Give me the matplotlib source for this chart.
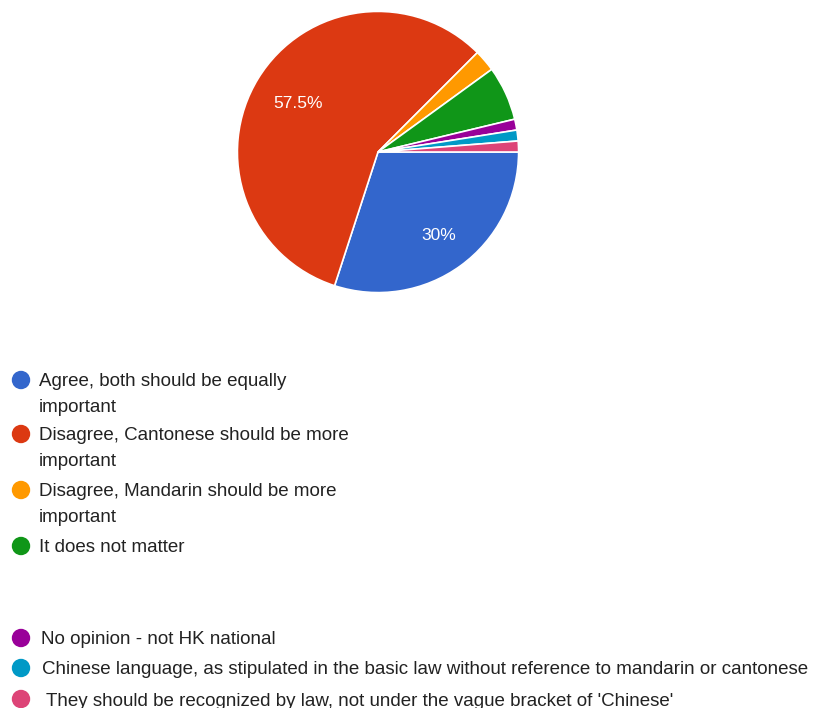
import matplotlib
matplotlib.use('Agg')
import matplotlib.pyplot as plt
from matplotlib.patches import Circle

labels = [
    'Agree, both should be equally\nimportant',
    'Disagree, Cantonese should be more\nimportant',
    'Disagree, Mandarin should be more\nimportant',
    'It does not matter',
    'No opinion - not HK national',
    'Chinese language, as stipulated in the basic law without reference to mandarin or cantonese',
    "They should be recognized by law, not under the vague bracket of 'Chinese'",
]
counts = [24, 46, 2, 5, 1, 1, 1]
colors = ['#3366cc', '#dc3912', '#ff9900', '#109618', '#990099', '#0099c6', '#dd4477']

W, H = 816, 708
fig = plt.figure(figsize=(W / 100, H / 100), dpi=100)
fig.patch.set_facecolor('white')

# pie, centre (378,152) px, radius 142 px
cx, cy, r = 378, 152, 142
ax = fig.add_axes([(cx - r) / W, 1 - (cy + r) / H, 2 * r / W, 2 * r / H])

def fmt(p):
    if p < 10:
        return ''
    return ('%.1f%%' % p).replace('.0%', '%')

wedges, texts, autotexts = ax.pie(
    counts, colors=colors, startangle=0, counterclock=False,
    autopct=fmt, pctdistance=0.7, radius=1,
    wedgeprops=dict(edgecolor='white', linewidth=1.2),
    textprops=dict(color='white', fontsize=12.5, family='Liberation Sans'))
# nudge label distances like google's layout
for t, k in [(autotexts[0], 1.05), (autotexts[1], 0.95)]:
    px, py = t.get_position()
    t.set_position((px * k, py * k))
ax.set_xlim(-1.01, 1.01)
ax.set_ylim(-1.01, 1.01)
ax.set_aspect('equal')
ax.axis('off')

# legend drawn by hand (two pages like the original)
lax = fig.add_axes([0, 0, 1, 1])
lax.set_xlim(0, W)
lax.set_ylim(H, 0)
lax.axis('off')

ys = [380, 434, 490, 546, 638, 668, 699]
text_x = [39, 39, 39, 39, 41, 42, 46]
for i, (lab, col, y) in enumerate(zip(labels, colors, ys)):
    lax.add_patch(Circle((21, y), 8.5, color=col))
    for j, line in enumerate(lab.split('\n')):
        lax.text(text_x[i], y + 2 + 25 * j, line, fontsize=13.5, family='Liberation Sans',
                 color='#222222', va='center', ha='left')

fig.savefig('out.png', dpi=100)
